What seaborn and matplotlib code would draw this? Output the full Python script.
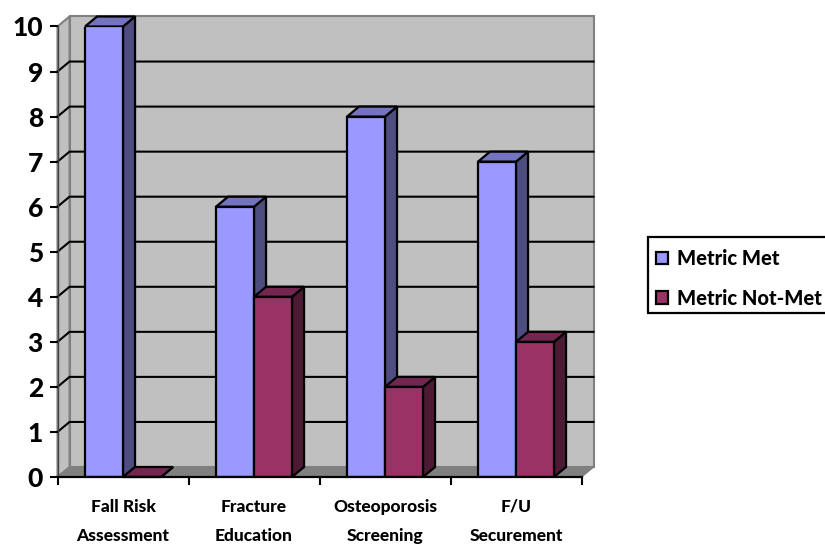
import matplotlib
matplotlib.use("Agg")
import matplotlib.pyplot as plt
from matplotlib.patches import Polygon, Patch, Rectangle
import pandas as pd
import seaborn as sns

CATEGORIES = ["Fall Risk\nAssessment", "Fracture\nEducation", "Osteoporosis\nScreening", "F/U\nSecurement"]
METRIC_MET = [10, 6, 8, 7]
METRIC_NOT_MET = [0, 4, 2, 3]
SERIES = ["Metric Met", "Metric Not-Met"]
Y_TICKS = list(range(0, 11))

FRONT = {"Metric Met": "#9999FF", "Metric Not-Met": "#993366"}
TOP = {"Metric Met": "#7373C0", "Metric Not-Met": "#732650"}
SIDE = {"Metric Met": "#4D4D80", "Metric Not-Met": "#4D1A33"}
WALL = "#C0C0C0"
FLOOR = "#808080"

# depth of the fake 3D box, in data units (about 12 px, 10 px)
DX = 0.092
DY = 0.222
EDGE = 1.6
HEAVY = 900

plt.rcParams["font.family"] = ["Lato", "DejaVu Sans"]

df = pd.DataFrame({
    "category": CATEGORIES * 2,
    "series": [SERIES[0]] * 4 + [SERIES[1]] * 4,
    "value": METRIC_MET + METRIC_NOT_MET,
})

fig = plt.figure(figsize=(8.25, 5.46), dpi=100)
ax = fig.add_axes([57.5 / 825, 1 - 477 / 546, 524 / 825, 450.5 / 546])

sns.barplot(
    data=df, x="category", y="value", hue="series", hue_order=SERIES,
    palette=FRONT, width=0.58, gap=0, saturation=1, dodge=True,
    edgecolor="black", linewidth=EDGE, legend=False, zorder=6, ax=ax,
)
ax.set_xlim(-0.5, 3.5)
ax.set_ylim(0, 10)

x0, x1 = ax.get_xlim()
y0, y1 = ax.get_ylim()


def face(points, color, edge, z, lw=EDGE):
    ax.add_patch(Polygon(points, closed=True, facecolor=color, edgecolor=edge,
                         linewidth=lw, zorder=z, clip_on=False, joinstyle="miter"))


# walls and floor
face([(x0 + DX, y0 + DY), (x1 + DX, y0 + DY), (x1 + DX, y1 + DY), (x0 + DX, y1 + DY)], WALL, FLOOR, 1, 1.5)
face([(x0, y0), (x0 + DX, y0 + DY), (x0 + DX, y1 + DY), (x0, y1)], WALL, FLOOR, 1, 1.5)
face([(x0, y0), (x1, y0), (x1 + DX, y0 + DY), (x0 + DX, y0 + DY)], FLOOR, FLOOR, 1, 1)

for t in Y_TICKS[1:-1]:
    ax.plot([x0, x0 + DX, x1 + DX], [t, t + DY, t + DY], color="black", lw=1.5,
            zorder=2, clip_on=False, solid_joinstyle="miter")

# side and top faces come from the bars seaborn drew
for name, container in zip(SERIES, ax.containers):
    for bar in container:
        left = bar.get_x()
        right = left + bar.get_width()
        h = bar.get_height()
        face([(right, 0), (right + DX, DY), (right + DX, h + DY), (right, h)], SIDE[name], "black", 3)
        face([(left, h), (right, h), (right + DX, h + DY), (left + DX, h + DY)], TOP[name], "black", 3)
    if name == SERIES[0]:
        # later series sits above the earlier side faces
        for bar in container:
            bar.set_zorder(3.5)

for p in ax.containers[1]:
    p.set_zorder(6)

ax.set_xlabel("")
ax.set_ylabel("")
ax.set_yticks(Y_TICKS)
ax.set_xticks([x0 + i for i in range(5)], minor=False)
ax.set_xticklabels([])
ax.set_xticks(range(4), CATEGORIES, minor=True)
ax.tick_params(axis="x", which="major", length=5.5, width=1.5, color="black")
ax.tick_params(axis="x", which="minor", length=0, pad=15.5, labelsize=12.5)
for label in ax.get_xticklabels(minor=True):
    label.set_linespacing(2.05)
    label.set_fontweight(HEAVY)
ax.tick_params(axis="y", length=5.5, width=1.5, labelsize=19, pad=5)
for label in ax.get_yticklabels():
    label.set_fontweight(HEAVY)

ax.patch.set_visible(False)
for s in ["top", "right"]:
    ax.spines[s].set_visible(False)
ax.spines["left"].set_color("#404040")
ax.spines["left"].set_linewidth(1.0)
ax.spines["left"].set_zorder(2)
ax.spines["bottom"].set_linewidth(1.6)
ax.spines["bottom"].set_zorder(7)

# legend frame runs off the right edge of the image, as in the original
fig.add_artist(Rectangle((648 / 825, 1 - 313 / 546), 200 / 825, 76 / 546, transform=fig.transFigure,
                         facecolor="white", edgecolor="black", linewidth=EDGE))
handles = [Patch(facecolor=FRONT[s], edgecolor="black", linewidth=EDGE) for s in SERIES]
fig.legend(
    handles, SERIES, loc="upper left", bbox_to_anchor=(656 / 825, 1 - 249 / 546),
    prop={"size": 14.5, "weight": HEAVY}, frameon=False,
    handlelength=0.6, handleheight=0.6, handletextpad=0.45, labelspacing=1.04,
    borderpad=0, borderaxespad=0,
)

fig.savefig("out.png", dpi=100)
